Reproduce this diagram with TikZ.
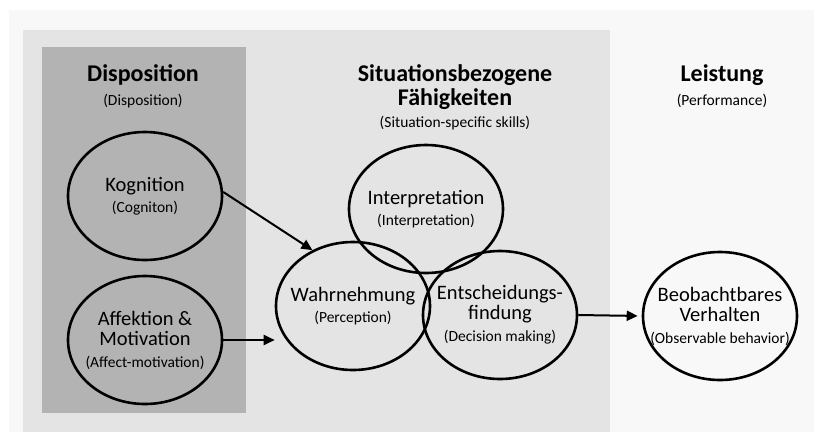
\documentclass[tikz,border=0pt]{standalone}
\usepackage{fontspec}
\setmainfont{Carlito}
\usepackage{tikz}
\usetikzlibrary{shapes.geometric, arrows.meta, positioning}
\definecolor{outergray}{HTML}{F8F8F8}
\definecolor{skillgray}{HTML}{E4E4E4}
\definecolor{dispgray}{HTML}{B3B3B3}
\tikzstyle{oval} = [ellipse, draw, line width=2.6pt, minimum width=154pt,
                 minimum height=128pt, inner sep=0pt]
\tikzstyle{arrow} = [line width=2pt, -{Triangle[length=11pt,width=10pt]}]
\tikzset{
	heading/.style={font=\fontsize{24}{24}\selectfont\bfseries, align=center},
	subheading/.style={font=\fontsize{15.5}{17}\selectfont},
	ovaltext/.style={font=\fontsize{20.5}{20}\selectfont, align=center},
}
\newcommand\engl[1]{{\fontsize{15.5}{20}\selectfont #1}}

\begin{document}
\begin{tikzpicture}[x=1pt, y=-1pt]

\useasboundingbox (0,0) rectangle (814,432);
	%panels
\fill [white] (0,0) rectangle (814,432);
\fill [outergray] (9,10) rectangle (814,432);
\fill [skillgray] (23,30) rectangle (610,432);
\fill [dispgray] (42,47) rectangle (246,413);

\node [heading] at (143,75) (disp) {Disposition};
\node [subheading] at (143,101) (dispsub) {(Disposition)};
\node [heading] at (455,87) (skill) {Situationsbezogene\\Fähigkeiten};
\node [subheading] at (455,123) (skillsub) {(Situation-specific skills)};
\node [heading] at (722,75) (leist) {Leistung};
\node [subheading] at (722,101) (leistsub) {(Performance)};

\node [oval] at (145,196) (kog) {};
\node [oval] at (145,340) (aff) {};
\node [oval] at (426,209) (interp) {};
\node [oval] at (353,306) (wahr) {};
\node [oval] at (500,315) (ent) {};
\node [oval] at (720,316) (beo) {};

\node [ovaltext] at (kog) (kogtxt) {Kognition\\[1pt]\engl{(Cogniton)}};
\node [ovaltext] at (aff) (afftxt) {Affektion \&\\Motivation\\[2pt]\engl{(Affect-motivation)}};
\node [ovaltext] at (interp) (interptxt) {Interpretation\\[1pt]\engl{(Interpretation)}};
\node [ovaltext] at (wahr) (wahrtxt) {Wahrnehmung\\[1pt]\engl{(Perception)}};
\node [ovaltext] at (ent) (enttxt) {Entscheidungs-\\findung\\[2pt]\engl{(Decision making)}};
\node [ovaltext] at (beo) (beotxt) {Beobachtbares\\Verhalten\\[2pt]\engl{(Observable behavior)}};

\path [arrow, draw] (kog.3) -- (wahr.126);
\path [arrow, draw] (aff.east) -- (aff.east -| wahr.west);
\path [arrow, draw, shorten >=4pt] (ent.east) -- (beo.west);

\end{tikzpicture}
\end{document}
